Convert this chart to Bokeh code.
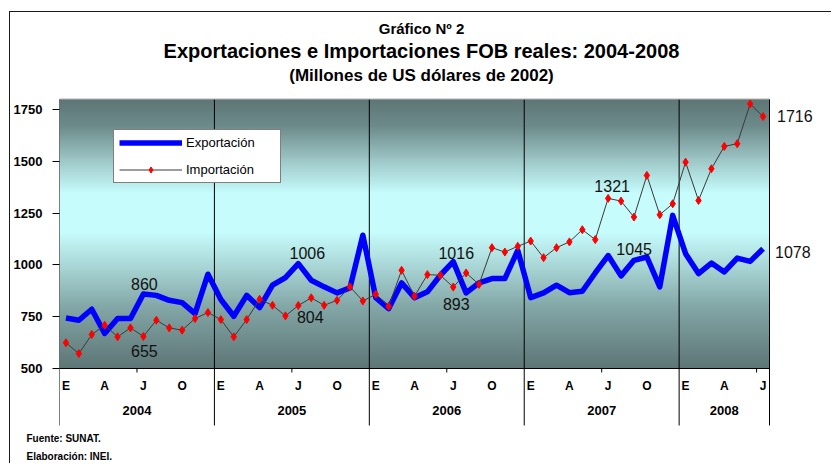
import numpy as np
from bokeh.plotting import figure
from bokeh.models import (Range1d, FixedTicker, ColumnDataSource, Title, Legend, LegendItem)
from bokeh.core.properties import value
from bokeh.embed import file_html
from bokeh.resources import INLINE

# ---------------- data ----------------
years = ["2004", "2005", "2006", "2007", "2008"]
months_per_year = [12, 12, 12, 12, 7]
month_letters = ["E", "F", "M", "A", "M", "J", "J", "A", "S", "O", "N", "D"]

exportacion = [
    744, 733, 786, 669, 741, 741, 860, 853, 829, 818, 765, 955,
    833, 752, 853, 794, 902, 939, 1006, 926, 894, 865, 889, 1143,
    842, 789, 913, 842, 870, 950, 1016, 865, 913, 934, 934, 1070,
    842, 865, 902, 866, 873, 961, 1045, 947, 1022, 1038, 894, 1239,
    1054, 958, 1009, 966, 1033, 1017, 1078,
]
importacion = [
    624, 572, 664, 709, 653, 696, 655, 733, 696, 685, 741, 770,
    736, 653, 736, 834, 805, 754, 804, 841, 805, 829, 894, 826,
    858, 800, 974, 849, 953, 950, 893, 961, 906, 1083, 1062, 1090,
    1115, 1035, 1083, 1111, 1170, 1122, 1321, 1308, 1231, 1432, 1242, 1295,
    1496, 1311, 1464, 1572, 1585, 1777, 1716,
]
y_ticks = [500, 750, 1000, 1250, 1500, 1750]
y_min, y_max = 500, 1800

title1 = "Gráfico Nº 2"
title2 = "Exportaciones e Importaciones FOB reales: 2004-2008"
title3 = "(Millones de US dólares de 2002)"
note1 = "Fuente: SUNAT."
note2 = "Elaboración: INEI."

# ---------------- layout constants (page pixels) ----------------
CANVAS_LEFT, CANVAS_TOP = 10, 12
FRAME_L = 59
FRAME_B = 428
NOTES_H = 36
W = 822
H = FRAME_B + NOTES_H - CANVAS_TOP
FRAME_R = CANVAS_LEFT + W
FRAME_T = CANVAS_TOP
n = len(exportacion)
PX_PER_MONTH = 710.0 / n
BASE_PAGE_Y = 368
Y_PER_PX = 250.0 / 51.8


def dx(px):
    return px / PX_PER_MONTH


def dy(px):
    return px * Y_PER_PX


def page_x(px):
    return -0.5 + (px - FRAME_L) / PX_PER_MONTH


def page_y(py):
    return y_min + (BASE_PAGE_Y - py) * Y_PER_PX


x_start = -0.5
x_end = page_x(FRAME_R)
y_start = page_y(FRAME_B)
y_end = page_y(FRAME_T)

FONT = value("Liberation Sans")

p = figure(width=W, height=H, output_backend="svg", toolbar_location=None,
           x_range=Range1d(x_start, x_end), y_range=Range1d(y_start, y_end),
           x_axis_location=None, y_axis_location="left", title=None,
           min_border_left=FRAME_L - CANVAS_LEFT, min_border_right=0,
           min_border_top=0, min_border_bottom=NOTES_H,
           background_fill_color="white", border_fill_color="white",
           outline_line_color=None)
p.styles = {"border-left": "1px solid #1a1a1a", "border-top": "1px solid #1a1a1a",
            "margin-left": "9px", "margin-top": "11px"}
p.grid.visible = False

ax = p.yaxis[0]
ax.ticker = FixedTicker(ticks=y_ticks)
ax.axis_line_color = None
ax.major_tick_out = 7
ax.major_tick_in = 0
ax.minor_tick_line_color = None
ax.major_tick_line_color = "black"
ax.major_label_standoff = 10
ax.major_label_text_font = "Liberation Sans"
ax.major_label_text_font_style = "bold"
ax.major_label_text_font_size = "13px"
ax.major_label_text_color = "black"

# ---------------- background gradient of the plot area ----------------
stops_t = [0.0, 0.1, 0.22, 0.35, 0.5, 0.62, 0.78, 1.0]
stops_rgb = np.array([[94, 118, 118], [110, 140, 140], [156, 196, 196], [198, 252, 252],
                      [198, 252, 252], [170, 215, 215], [130, 165, 165], [94, 118, 118]])
rows = 270
t_from_top = 1.0 - (np.arange(rows) + 0.5) / rows
img = np.empty((rows, 2), dtype=np.uint32)
view = img.view(dtype=np.uint8).reshape((rows, 2, 4))
for c in range(3):
    view[:, :, c] = np.interp(t_from_top, stops_t, stops_rgb[:, c])[:, None]
view[:, :, 3] = 255
p.image_rgba(image=[img], x=-0.5, y=y_min, dw=n, dh=y_max - y_min)

# ---------------- frame lines ----------------
starts = np.concatenate([[0], np.cumsum(months_per_year)[:-1]])
bounds = np.concatenate([starts, [n]]) - 0.5
sep_bottom = page_y(425)
p.segment(x0=bounds, y0=[sep_bottom] * len(bounds), x1=bounds, y1=[y_max] * len(bounds),
          line_color="black", line_width=1)
p.segment(x0=[-0.5], y0=[y_max], x1=[n - 0.5], y1=[y_max], line_color="#9a9a9a", line_width=1)
p.segment(x0=[-0.5], y0=[y_min], x1=[n - 0.5], y1=[y_min], line_color="black", line_width=1)
mid_ticks = [s + 5.5 for s, m in zip(starts, months_per_year) if m > 6]
p.segment(x0=mid_ticks, y0=[y_min] * len(mid_ticks), x1=mid_ticks,
          y1=[y_min - dy(4)] * len(mid_ticks), line_color="black", line_width=1)

# ---------------- series ----------------
src = ColumnDataSource(dict(x=list(range(n)), exp=exportacion, imp=importacion))
r_exp = p.line("x", "exp", source=src, line_color="#0000ff", line_width=5.5, line_join="round")
r_imp = p.line("x", "imp", source=src, line_color="#3a3a3a", line_width=1)
r_imp_pts = p.scatter("x", "imp", source=src, marker="diamond", size=8,
                      fill_color="#ff0000", line_color="#ff0000")

# ---------------- category labels ----------------
mx, ml = [], []
for s, m in zip(starts, months_per_year):
    for k in range(0, m, 3):
        mx.append(s + k)
        ml.append(month_letters[k])
p.text(x=mx, y=[page_y(385)] * len(mx), text=ml, text_font=FONT, text_font_style="bold",
       text_font_size="12px", text_align="center", text_baseline="middle", text_color="black")
yx = [s + (m - 1) / 2 for s, m in zip(starts, months_per_year)]
p.text(x=yx, y=[page_y(410)] * len(yx), text=years, text_font=FONT, text_font_style="bold",
       text_font_size="13px", text_align="center", text_baseline="middle", text_color="black")

# ---------------- data labels (July values) ----------------
jul = [s + 6 for s in starts]
lab_specs = [  # (series, year idx, dx px, dy px up, align)
    (exportacion, 0, 1, 10, "center"), (importacion, 0, 1, -15, "center"),
    (exportacion, 1, 9, 11, "center"), (importacion, 1, 12, -11, "center"),
    (exportacion, 2, 3, 9, "center"), (importacion, 2, 3, -17, "center"),
    (importacion, 3, 4, 12, "center"), (exportacion, 3, 26, 7, "center"),
    (importacion, 4, 14, 1, "left"), (exportacion, 4, 12, -3, "left"),
]
for ser, yi, ox, oy, al in lab_specs:
    i = jul[yi]
    p.text(x=[i + dx(ox)], y=[ser[i] + dy(oy)], text=[str(ser[i])], text_font=FONT,
           text_font_size="16px", text_align=al, text_baseline="middle", text_color="#111111")

# ---------------- titles ----------------
cx = page_x(421)
for txt, py, sz in [(title1, 28, "15px"), (title2, 50, "20px"), (title3, 75, "17px")]:
    p.text(x=[cx], y=[page_y(py)], text=[txt], text_font=FONT, text_font_style="bold",
           text_font_size=sz, text_align="center", text_baseline="middle", text_color="black")

# ---------------- footnotes (below the frame) ----------------
for txt in [note1, note2]:
    p.add_layout(Title(text=txt, align="left", offset=26 - FRAME_L, text_font="Liberation Sans",
                       text_font_style="bold", text_font_size="10px", text_color="black",
                       standoff=5), "below")

# ---------------- legend ----------------
legend = Legend(items=[LegendItem(label="Exportación", renderers=[r_exp]),
                       LegendItem(label="Importación", renderers=[r_imp, r_imp_pts])],
                location=(113 - FRAME_L, FRAME_B - 183), orientation="vertical",
                padding=5, spacing=12, glyph_width=63, glyph_height=15, label_standoff=4,
                label_width=89, margin=0, label_text_font="Liberation Sans",
                label_text_font_size="13px", label_text_color="black",
                border_line_color="black", border_line_width=1,
                background_fill_color="white", background_fill_alpha=1.0)
p.add_layout(legend)

open("out.html", "w").write(file_html(p, INLINE))
